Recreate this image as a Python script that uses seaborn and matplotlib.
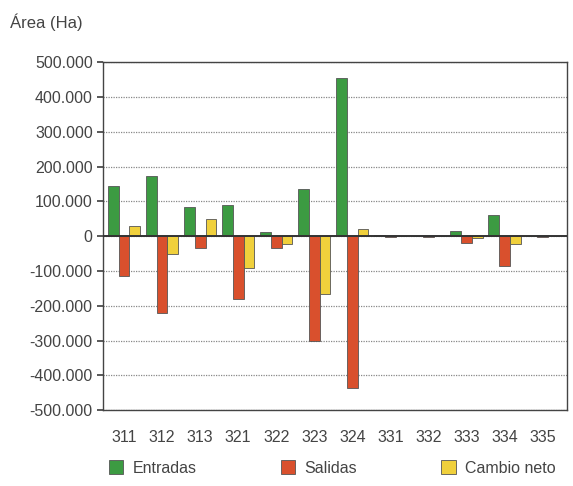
import matplotlib
matplotlib.use("Agg")
import matplotlib.pyplot as plt
import matplotlib.ticker as mticker
import seaborn as sns
import pandas as pd

# Land-use change codes
categories = ["311", "312", "313", "321", "322", "323", "324", "331", "332", "333", "334", "335"]

# Area (ha) per code
entradas = [145000, 172000, 85000, 90000, 12000, 135000, 455000, 3000, 2000, 15000, 62000, 2000]
salidas = [-115000, -222000, -35000, -180000, -35000, -300000, -435000, -3000, -2000, -20000, -85000, -2000]
cambio_neto = [30000, -50000, 50000, -90000, -23000, -165000, 20000, 0, 0, -5000, -23000, 0]

series_names = ["Entradas", "Salidas", "Cambio neto"]
colors = ["#3c9b42", "#d9502d", "#f0d03c"]
yticks = [-500000, -400000, -300000, -200000, -100000, 0, 100000, 200000, 300000, 400000, 500000]

rows = []
for name, vals in zip(series_names, [entradas, salidas, cambio_neto]):
    for cat, v in zip(categories, vals):
        rows.append({"Código": cat, "Serie": name, "Área": v})
df = pd.DataFrame(rows)

sns.set_theme(style="white")
plt.rcParams["font.family"] = ["Liberation Sans", "DejaVu Sans"]

fig = plt.figure(figsize=(5.73, 4.86), dpi=100)
ax = fig.add_axes([0.18, 0.156, 0.81, 0.716])

sns.barplot(data=df, x="Código", y="Área", hue="Serie", order=categories,
            hue_order=series_names, palette=colors, saturation=1, width=0.85,
            edgecolor="#555555", linewidth=0.6, ax=ax, legend=True)

ax.set_ylim(-500000, 500000)
ax.set_xlim(-0.55, 11.65)
ax.set_yticks(yticks)
ax.yaxis.set_major_formatter(mticker.FuncFormatter(lambda v, p: f"{int(v):,}".replace(",", ".")))
ax.set_xlabel("")
ax.set_ylabel("")
ax.yaxis.grid(True, linestyle=(0, (1, 1)), color="#888888", linewidth=0.9)
ax.set_axisbelow(True)
ax.axhline(0, color="#333333", linewidth=1.4, zorder=3)
for s in ax.spines.values():
    s.set_color("#444444")
    s.set_linewidth(1.0)
ax.tick_params(axis="y", colors="#444444", labelsize=11.5, length=4, direction="out", left=True)
ax.tick_params(axis="x", colors="#444444", labelsize=11.5, length=0, pad=14)

handles, labels = ax.get_legend_handles_labels()
ax.get_legend().remove()
fig.legend(handles, labels, loc="lower left", ncol=3, frameon=False, mode="expand",
           bbox_to_anchor=(0.165, -0.008, 0.83, 0.06), fontsize=11.5,
           handlelength=0.9, handleheight=0.9, handletextpad=0.6,
           labelcolor="#444444")

fig.text(0.017, 0.955, "Área (Ha)", fontsize=12, color="#444444", ha="left", va="center")

fig.savefig("out.png", dpi=100)
